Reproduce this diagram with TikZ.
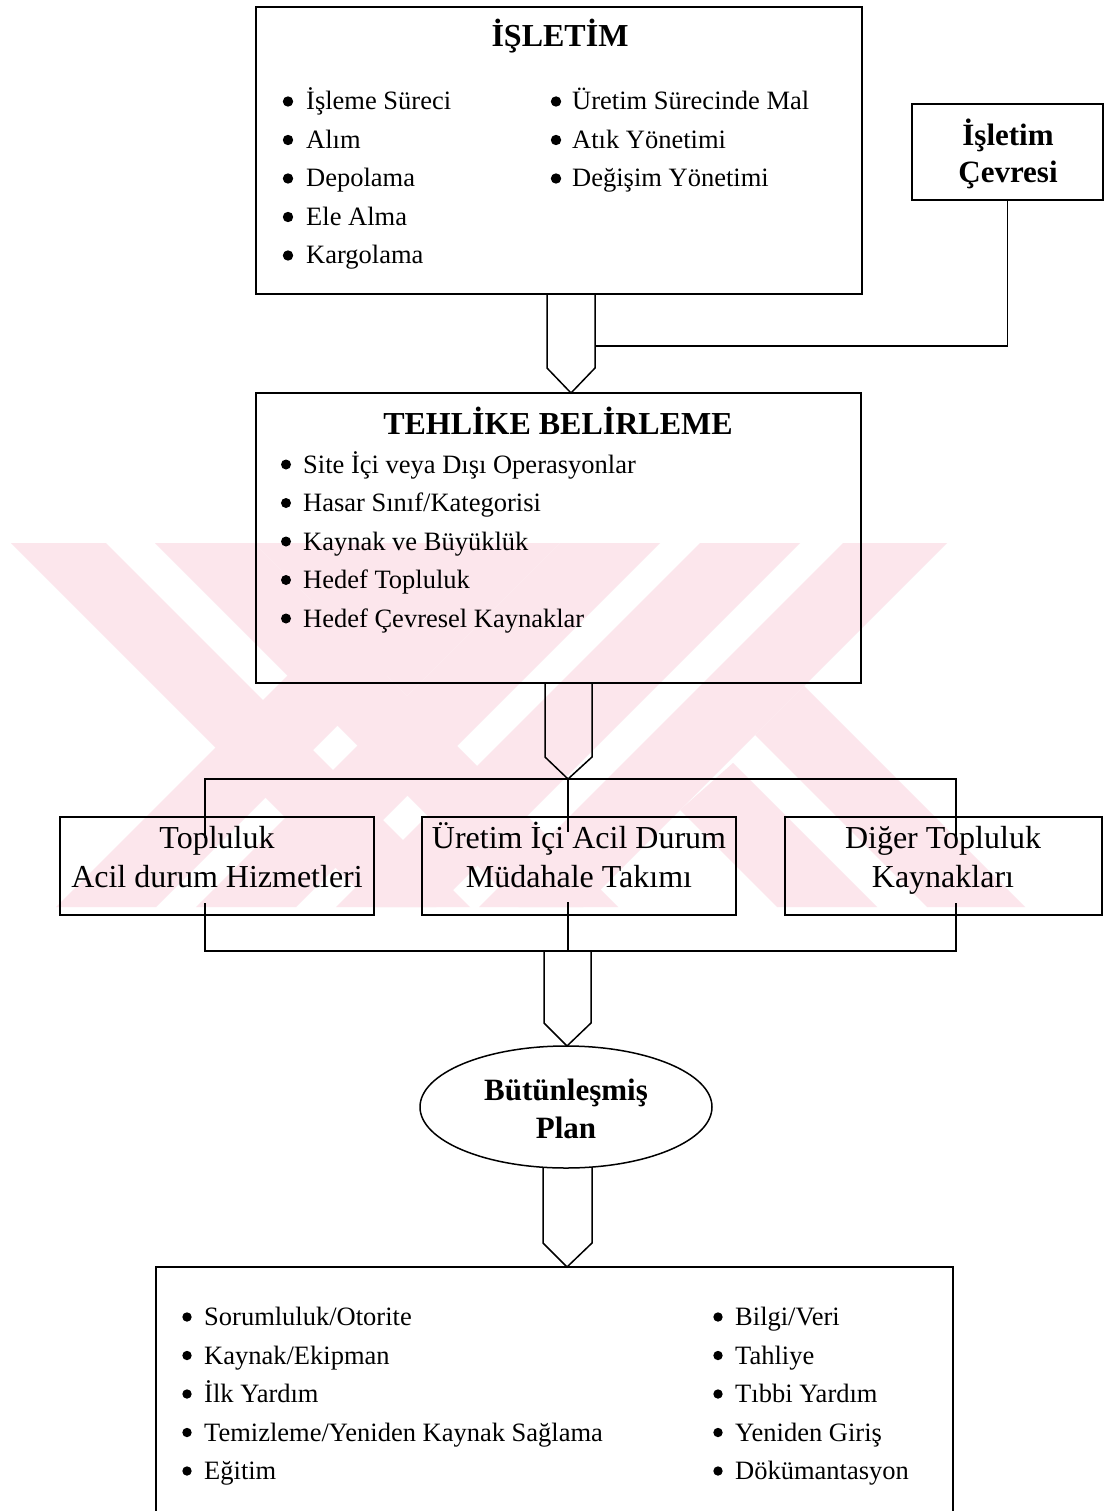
\documentclass[tikz,border=0pt]{standalone}
\usepackage{fontspec}
\setmainfont{Liberation Serif}
\usetikzlibrary{shapes.geometric}
\definecolor{wmpink}{RGB}{252,230,236}
\tikzset{
  frame/.style={draw, line width=1.5pt, inner sep=0pt, outer sep=0pt},
  link/.style={line width=1.5pt, line join=miter},
  body/.style={font=\fontsize{26.5}{32}\selectfont, inner sep=0pt, anchor=base west},
  head/.style={font=\fontsize{31}{36}\selectfont\bfseries, inner sep=0pt, anchor=base},
  midtext/.style={font=\fontsize{32}{38}\selectfont, inner sep=0pt, anchor=base},
  wm/.style={fill=wmpink, draw=none},
}
\begin{document}
\begin{tikzpicture}[x=1pt, y=-1pt]
\useasboundingbox (0,0) rectangle (1107,1511);
\clip (0,0) rectangle (1107,1511);
\fill[white] (0,0) rectangle (1107,1511);

% background emblem made of diagonal bands
\begin{scope}
\clip (0,543) rectangle (1107,907);
\fill[wm] (11,543) -- (106,543) -- (470,907) -- (375,907) -- cycle;
\fill[wm] (155,543) -- (254,543) -- (618,907) -- (519,907) -- cycle;
\fill[wm] (254,543) -- (560,543) -- (407,696) -- cycle;
\fill[wm] (420,543) -- (520,543) -- (156,907) -- (56,907) -- cycle;
\fill[wm] (560,543) -- (660,543) -- (296,907) -- (196,907) -- cycle;
\fill[wm] (700,543) -- (800,543) -- (436,907) -- (336,907) -- cycle;
\fill[wm] (843,543) -- (947,543) -- (583,907) -- (479,907) -- cycle;
\fill[wm] (804,686) -- (1025,907) -- (927,907) -- (755,735) -- cycle;
\fill[wm] (733,763) -- (877,907) -- (777,907) -- (680,810) -- cycle;
\end{scope}

% ---- İŞLETİM ----
\node[frame, minimum width=606pt, minimum height=287pt] (isletim) at (559,150.5) {};
\node[head, font=\fontsize{32}{36}\selectfont\bfseries] (isletimT) at (560,47) {İŞLETİM};
\foreach \txt [count=\k] in {İşleme Süreci,Alım,Depolama,Ele Alma,Kargolama}{
  \fill (288,{110+(\k-1)*38.5-8.5}) circle[radius=5.2pt];
  \node[body] (ia\k) at (306,{110+(\k-1)*38.5}) {\txt};
}
\foreach \txt [count=\k] in {Üretim Sürecinde Mal,Atık Yönetimi,Değişim Yönetimi}{
  \fill (556,{110+(\k-1)*38.5-8.5}) circle[radius=5.2pt];
  \node[body] (ib\k) at (572,{110+(\k-1)*38.5}) {\txt};
}

% ---- İşletim Çevresi ----
\node[frame, minimum width=191pt, minimum height=96pt] (cevre) at (1007.5,152) {};
\node[head] (cevreT1) at (1008,146) {İşletim};
\node[head] (cevreT2) at (1008,183) {Çevresi};

% ---- TEHLİKE BELİRLEME ----
\node[frame, minimum width=605pt, minimum height=290pt] (tehlike) at (558.5,538) {};
\node[head, font=\fontsize{32}{36}\selectfont\bfseries] (tehlikeT) at (558,434) {TEHLİKE BELİRLEME};
\foreach \txt [count=\k] in {Site İçi veya Dışı Operasyonlar,Hasar Sınıf/Kategorisi,Kaynak ve Büyüklük,Hedef Topluluk,Hedef Çevresel Kaynaklar}{
  \fill (286,{473+(\k-1)*38.5-8.5}) circle[radius=5pt];
  \node[body] (tb\k) at (303,{473+(\k-1)*38.5}) {\txt};
}

% arrow İŞLETİM -> TEHLİKE
\draw[link] (547,0 |- isletim.south) -- (547,368) -- (571,0 |- tehlike.north) -- (595,368) -- (595,0 |- isletim.south);
\coordinate (joinA) at (595,346);
\draw[link] (cevre.south) |- (joinA);

% ---- three response units ----
\node[frame, minimum width=314pt, minimum height=98pt] (unitA) at (217,866) {};
\node[frame, minimum width=314pt, minimum height=98pt] (unitB) at (579,866) {};
\node[frame, minimum width=317pt, minimum height=98pt] (unitC) at (943.5,866) {};
\node[midtext] (uA1) at (217,848) {Topluluk};
\node[midtext] (uA2) at (217,887) {Acil durum Hizmetleri};
\node[midtext] (uB1) at (579,848) {Üretim İçi Acil Durum};
\node[midtext] (uB2) at (579,887) {Müdahale Takımı};
\node[midtext] (uC1) at (943,848) {Diğer Topluluk};
\node[midtext] (uC2) at (943,887) {Kaynakları};

% arrow TEHLİKE -> units
\coordinate (hubTop) at (568,779);
\draw[link] (545,0 |- tehlike.south) -- (545,757) -- (hubTop) -- (592,757) -- (592,0 |- tehlike.south);
\coordinate (tA) at (205,838);
\coordinate (tB) at (568,832);
\coordinate (tC) at (956,836);
\draw[link] (tA) -- (205,779) -- (956,779) -- (tC);
\draw[link] (hubTop) -- (tB);

\coordinate (bA) at (205,903);
\coordinate (bB) at (568,902);
\coordinate (bC) at (956,903);
\draw[link] (bA) -- (205,951) -- (956,951) -- (bC);
\draw[link] (bB) -- (568,951);

% ---- Bütünleşmiş Plan ----
\node[frame, ellipse, minimum width=292pt, minimum height=122pt] (plan) at (566,1107) {};
\node[head] (planT1) at (566,1100) {Bütünleşmiş};
\node[head] (planT2) at (566,1138) {Plan};

\draw[link] (544,951) -- (544,1023) -- (567,0 |- plan.north) -- (591,1023) -- (591,951);

% ---- plan contents ----
\node[frame, minimum width=797pt, minimum height=290pt, anchor=north west] (icerik) at (156,1267) {};
\draw[link] (543,1167) -- (543,1243) -- (567,0 |- icerik.north) -- (592,1243) -- (592,1167);

\foreach \txt [count=\k] in {Sorumluluk/Otorite,Kaynak/Ekipman,İlk Yardım,Temizleme/Yeniden Kaynak Sağlama,Eğitim}{
  \fill (187,{1325.5+(\k-1)*38.5-8.5}) circle[radius=4.7pt];
  \node[body] (pa\k) at (204,{1325.5+(\k-1)*38.5}) {\txt};
}
\foreach \txt [count=\k] in {Bilgi/Veri,Tahliye,Tıbbi Yardım,Yeniden Giriş,Dökümantasyon}{
  \fill (718,{1325.5+(\k-1)*38.5-8.5}) circle[radius=4.7pt];
  \node[body] (pb\k) at (735,{1325.5+(\k-1)*38.5}) {\txt};
}
\end{tikzpicture}
\end{document}
